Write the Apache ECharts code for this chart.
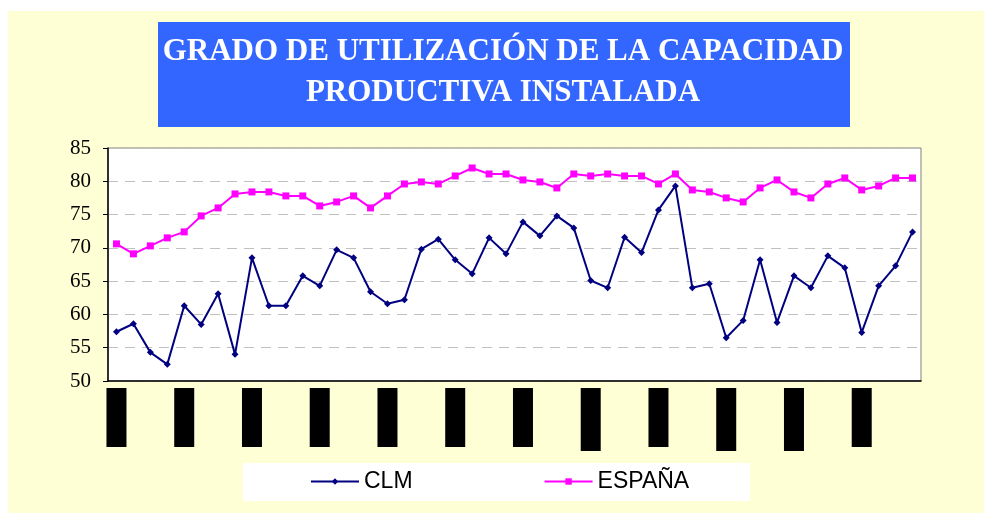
<!DOCTYPE html>
<html>
<head>
<meta charset="utf-8">
<script src="https://cdn.jsdelivr.net/npm/echarts@6/dist/echarts.min.js"></script>
<style>
  html, body { margin: 0; padding: 0; background: #fff; }
  #chart { width: 984px; height: 513px; }
</style>
</head>
<body>
<div id="chart"></div>
<script>
// trimestres (las etiquetas del eje aparecen tapadas en el original)
var periodos = [
  'T1-1','T2-1','T3-1','T4-1','T1-2','T2-2','T3-2','T4-2',
  'T1-3','T2-3','T3-3','T4-3','T1-4','T2-4','T3-4','T4-4',
  'T1-5','T2-5','T3-5','T4-5','T1-6','T2-6','T3-6','T4-6',
  'T1-7','T2-7','T3-7','T4-7','T1-8','T2-8','T3-8','T4-8',
  'T1-9','T2-9','T3-9','T4-9','T1-10','T2-10','T3-10','T4-10',
  'T1-11','T2-11','T3-11','T4-11','T1-12','T2-12','T3-12','T4-12'
];
var clm = [
  57.4, 58.6, 54.3, 52.5, 61.3, 58.5, 63.1, 54.0,
  68.5, 61.3, 61.3, 65.8, 64.3, 69.7, 68.5, 63.4,
  61.6, 62.2, 69.8, 71.3, 68.2, 66.1, 71.5, 69.1,
  73.9, 71.8, 74.8, 73.0, 65.1, 64.0, 71.6, 69.3,
  75.7, 79.3, 64.0, 64.6, 56.5, 59.1, 68.2, 58.8,
  65.8, 64.0, 68.8, 67.0, 57.3, 64.3, 67.3, 72.4
];
var espana = [
  70.6, 69.1, 70.3, 71.5, 72.4, 74.8, 76.0, 78.1,
  78.4, 78.4, 77.8, 77.8, 76.3, 76.9, 77.8, 76.0,
  77.8, 79.6, 79.9, 79.6, 80.8, 82.0, 81.1, 81.1,
  80.2, 79.9, 79.0, 81.1, 80.8, 81.1, 80.8, 80.8,
  79.6, 81.1, 78.7, 78.4, 77.5, 76.9, 79.0, 80.2,
  78.4, 77.5, 79.6, 80.5, 78.7, 79.3, 80.5, 80.5
];
var yTicks = [50, 55, 60, 65, 70, 75, 80, 85];
var titulo = ['GRADO DE UTILIZACIÓN DE LA CAPACIDAD', 'PRODUCTIVA INSTALADA'];
// alto de cada bloque negro de etiqueta (uno por año)
var altoEtiqueta = [59, 59, 59, 59, 59, 59, 59, 63, 59, 63, 63, 59];

var chart = echarts.init(document.getElementById('chart'));

var rich = {};
altoEtiqueta.forEach(function (h, i) {
  rich['b' + i] = { width: 20, height: h, backgroundColor: '#000', align: 'center', verticalAlign: 'top' };
});

var fuenteTitulo = 'bold 31px "Liberation Serif", "Times New Roman", serif';

chart.setOption({
  animation: false,
  backgroundColor: '#fff',
  graphic: [
    { type: 'rect', z: -10, shape: { x: 8, y: 11, width: 980, height: 506 }, style: { fill: '#FFFFD5' } },
    { type: 'rect', z: -5, shape: { x: 158, y: 22, width: 692, height: 105 }, style: { fill: '#3366FF' } },
    { type: 'text', z: -4, x: 503, y: 52, style: { text: titulo[0], fill: '#fff', font: fuenteTitulo, textAlign: 'center', textVerticalAlign: 'middle' } },
    { type: 'text', z: -4, x: 503, y: 93, style: { text: titulo[1], fill: '#fff', font: fuenteTitulo, textAlign: 'center', textVerticalAlign: 'middle' } },
    { type: 'rect', z: -5, shape: { x: 243, y: 463, width: 507, height: 38 }, style: { fill: '#fff' } }
  ],
  legend: {
    left: 305,
    top: 465,
    itemWidth: 48,
    itemHeight: 8,
    itemGap: 131,
    textStyle: { fontFamily: '"Liberation Sans", Arial, sans-serif', fontSize: 23, color: '#000' },
    data: ['CLM', 'ESPAÑA']
  },
  grid: {
    left: 108,
    right: 63,
    top: 148,
    bottom: 132,
    show: true,
    backgroundColor: '#fff',
    borderColor: '#808080',
    borderWidth: 1
  },
  xAxis: {
    type: 'category',
    data: periodos,
    boundaryGap: true,
    axisLine: { lineStyle: { color: '#000', width: 1.5 } },
    axisTick: { interval: 0, length: 5, lineStyle: { color: '#000' } },
    axisLabel: {
      interval: 3,
      margin: 7,
      formatter: function (v, i) { return '{b' + (i / 4) + '| }'; },
      rich: rich
    }
  },
  yAxis: {
    type: 'value',
    min: yTicks[0],
    max: yTicks[yTicks.length - 1],
    interval: 5,
    axisLine: { show: true, lineStyle: { color: '#000', width: 1.5 } },
    axisTick: { show: true, length: 5, lineStyle: { color: '#000' } },
    axisLabel: { margin: 17, color: '#000', fontFamily: '"Liberation Serif", "Times New Roman", serif', fontSize: 21 },
    splitLine: { show: true, lineStyle: { color: '#c0c0c0', type: [10, 7], width: 1 } }
  },
  series: [
    {
      name: 'CLM', type: 'line', data: clm,
      symbol: 'diamond', symbolSize: 7, showAllSymbol: true,
      lineStyle: { color: '#000080', width: 2 },
      itemStyle: { color: '#000080' }
    },
    {
      name: 'ESPAÑA', type: 'line', data: espana,
      symbol: 'rect', symbolSize: 7, showAllSymbol: true,
      lineStyle: { color: '#FF00FF', width: 2 },
      itemStyle: { color: '#FF00FF' }
    }
  ]
});
</script>
</body>
</html>
